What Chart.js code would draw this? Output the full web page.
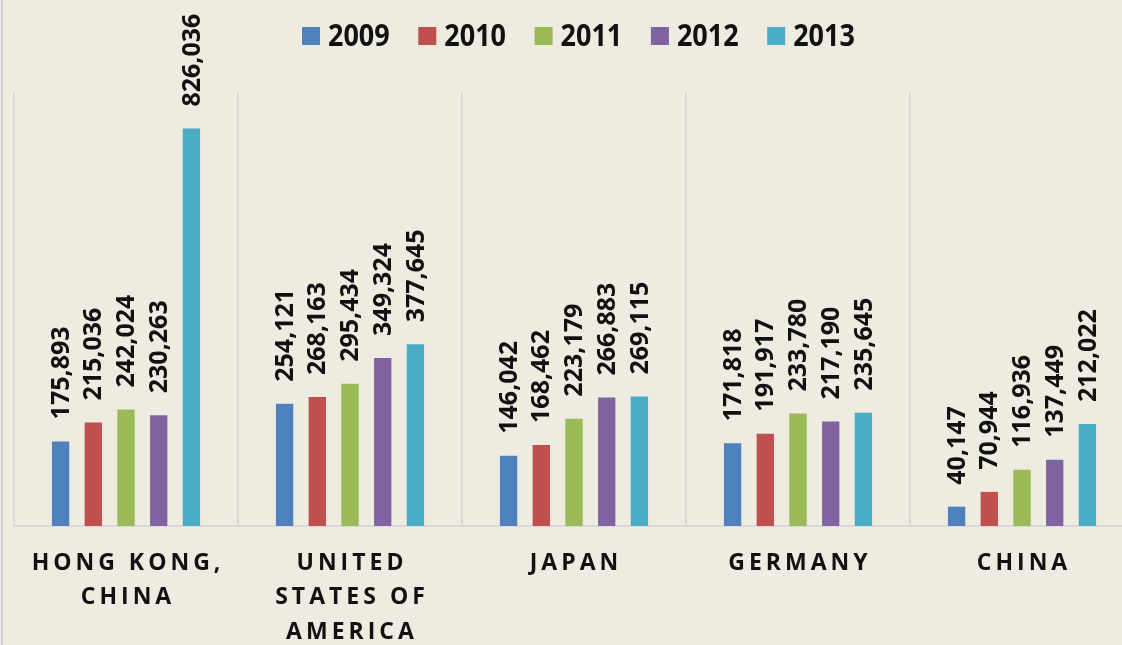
<!DOCTYPE html>
<html>
<head>
<meta charset="utf-8">
<script src="https://cdn.jsdelivr.net/npm/chart.js@4"></script>
<style>
  html, body { margin: 0; padding: 0; overflow: hidden; background: #EEEBE1; }
  #wrap { width: 1136px; height: 645px; }
</style>
</head>
<body>
<div id="wrap"><canvas id="exportChart" width="1136" height="645"></canvas></div>
<script>
// economies on the x axis, each one split into lines as in the picture
const categories = ['HONG KONG, CHINA', 'UNITED STATES OF AMERICA', 'JAPAN', 'GERMANY', 'CHINA'];
const categoryLines = [['HONG KONG,', 'CHINA'], ['UNITED', 'STATES OF', 'AMERICA'], ['JAPAN'], ['GERMANY'], ['CHINA']];

const years = ['2009', '2010', '2011', '2012', '2013'];
const values2009 = [175893, 254121, 146042, 171818, 40147];
const values2010 = [215036, 268163, 168462, 191917, 70944];
const values2011 = [242024, 295434, 223179, 233780, 116936];
const values2012 = [230263, 349324, 266883, 217190, 137449];
const values2013 = [826036, 377645, 269115, 235645, 212022];
const seriesValues = [values2009, values2010, values2011, values2012, values2013];
const colors = ['#4F81BD', '#C0504D', '#9BBB59', '#8064A2', '#4BACC6'];

const yMax = 900000;

// background, outer border line, legend, value labels and category labels
const decorations = {
    id: 'decorations',
    beforeDraw(chart) {
        const ctx = chart.ctx;
        ctx.save();
        ctx.fillStyle = '#EEEBE1';
        ctx.fillRect(0, 0, chart.width, chart.height);
        ctx.fillStyle = '#D3D3D3';
        ctx.fillRect(1, 0, 2, chart.height);
        ctx.restore();
    },
    afterDatasetsDraw(chart) {
        const ctx = chart.ctx;
        ctx.save();
        ctx.fillStyle = '#111111';
        ctx.font = 'bold 25px "Open Sans"';
        ctx.textAlign = 'left';
        ctx.textBaseline = 'middle';
        chart.data.datasets.forEach(function(ds, i) {
            chart.getDatasetMeta(i).data.forEach(function(bar, j) {
                ctx.save();
                ctx.translate(bar.x + 1, bar.y - 22);
                ctx.rotate(-Math.PI / 2);
                ctx.fillText(ds.data[j].toLocaleString('en-US'), 0, 0);
                ctx.restore();
            });
        });
        ctx.restore();
    },
    afterDraw(chart) {
        const ctx = chart.ctx;
        const xScale = chart.scales.x;

        // category labels with wide letter spacing
        ctx.save();
        ctx.fillStyle = '#111111';
        ctx.font = 'bold 23px "Open Sans"';
        ctx.letterSpacing = '4px';
        ctx.textAlign = 'center';
        ctx.textBaseline = 'middle';
        categoryLines.forEach(function(lines, i) {
            const x = xScale.getPixelForValue(i) + 2;
            lines.forEach(function(line, k) {
                ctx.fillText(line, x, 563 + k * 34.5);
            });
        });
        ctx.restore();

        // legend (text squeezed a little, like the original narrow font)
        ctx.save();
        ctx.font = 'bold 31px "Open Sans"';
        ctx.textAlign = 'left';
        ctx.textBaseline = 'middle';
        years.forEach(function(year, i) {
            const bx = 302 + i * 116.3;
            ctx.fillStyle = colors[i];
            ctx.fillRect(bx, 27, 18, 18);
            ctx.fillStyle = '#111111';
            ctx.save();
            ctx.translate(bx + 26, 37);
            ctx.scale(0.87, 1);
            ctx.fillText(year, 0, 0);
            ctx.restore();
        });
        ctx.restore();
    }
};

const ctx = document.getElementById('exportChart').getContext('2d');

const exportChart = new Chart(ctx, {
    type: 'bar',
    data: {
        labels: categories,
        datasets: years.map(function(year, i) {
            return {
                label: year,
                data: seriesValues[i],
                backgroundColor: colors[i],
                borderWidth: 0,
                categoryPercentage: 0.73,
                barPercentage: 0.53
            };
        })
    },
    options: {
        responsive: false,
        animation: false,
        devicePixelRatio: 1,
        layout: {
            padding: { left: 14, right: 2, top: 93, bottom: 119 }
        },
        scales: {
            x: {
                grid: { color: '#D9D9D9', lineWidth: 2, drawTicks: false, offset: true },
                border: { color: '#D9D9D9', width: 2 },
                ticks: { display: false }
            },
            y: {
                display: false,
                min: 0,
                max: yMax
            }
        },
        plugins: {
            legend: { display: false },
            tooltip: { enabled: false }
        }
    },
    plugins: [decorations]
});
</script>
</body>
</html>
